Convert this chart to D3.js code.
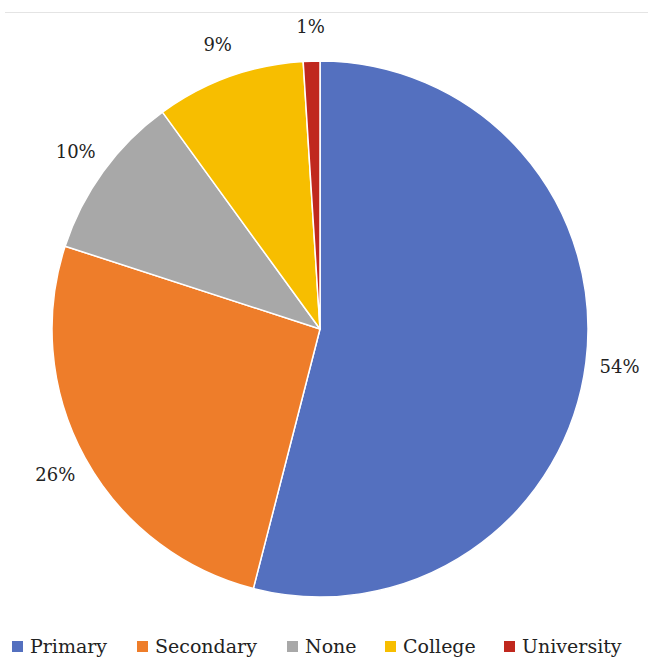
<!DOCTYPE html>
<html>
<head>
<meta charset="utf-8">
<script src="https://cdn.jsdelivr.net/npm/d3@7"></script>
<style>
  html, body { margin: 0; padding: 0; background: #fff; }
  svg { display: block; }
  text { font-family: "DejaVu Serif", "Liberation Serif", serif; fill: #222; }
</style>
</head>
<body>
<svg id="chart" width="648" height="657"></svg>
<script>
// Education level shares (percent)
const categories = ["Primary", "Secondary", "None", "College", "University"];
const values = [54, 26, 10, 9, 1];
const colors = ["#5470BF", "#EE7D2A", "#A8A8A8", "#F7BE00", "#C0281E"];

const width = 648, height = 657;
const cx = 320, cy = 329, radius = 268, labelRadius = 302;

const svg = d3.select("#chart");

// thin rule across the top of the frame
svg.append("line")
  .attr("x1", 5).attr("x2", width)
  .attr("y1", 12.5).attr("y2", 12.5)
  .attr("stroke", "#e4e4e4").attr("stroke-width", 1);

const data = categories.map((c, i) => ({ name: c, value: values[i], color: colors[i] }));

const pie = d3.pie().value(d => d.value).sort(null);
const arcs = pie(data);

const arc = d3.arc().innerRadius(0).outerRadius(radius);
const labelArc = d3.arc().innerRadius(labelRadius).outerRadius(labelRadius);

const g = svg.append("g").attr("transform", `translate(${cx},${cy})`);

g.selectAll("path.slice")
  .data(arcs)
  .join("path")
  .attr("class", "slice")
  .attr("d", arc)
  .attr("fill", d => d.data.color)
  .attr("stroke", "#fff")
  .attr("stroke-width", 1.5)
  .attr("stroke-linejoin", "round");

g.selectAll("text.label")
  .data(arcs)
  .join("text")
  .attr("class", "label")
  .attr("transform", d => `translate(${labelArc.centroid(d)})`)
  .attr("text-anchor", "middle")
  .attr("dy", "0.35em")
  .attr("font-size", 18)
  .text(d => `${d.data.value}%`);

// legend along the bottom edge
const legendX = [12, 137, 287, 385, 504];
const legend = svg.append("g").attr("class", "legend");
const items = legend.selectAll("g")
  .data(data)
  .join("g")
  .attr("transform", (d, i) => `translate(${legendX[i]},0)`);

items.append("rect")
  .attr("x", 0).attr("y", 641)
  .attr("width", 11).attr("height", 11)
  .attr("fill", d => d.color);

items.append("text")
  .attr("x", 18).attr("y", 653)
  .attr("font-size", 19)
  .text(d => d.name);
</script>
</body>
</html>
